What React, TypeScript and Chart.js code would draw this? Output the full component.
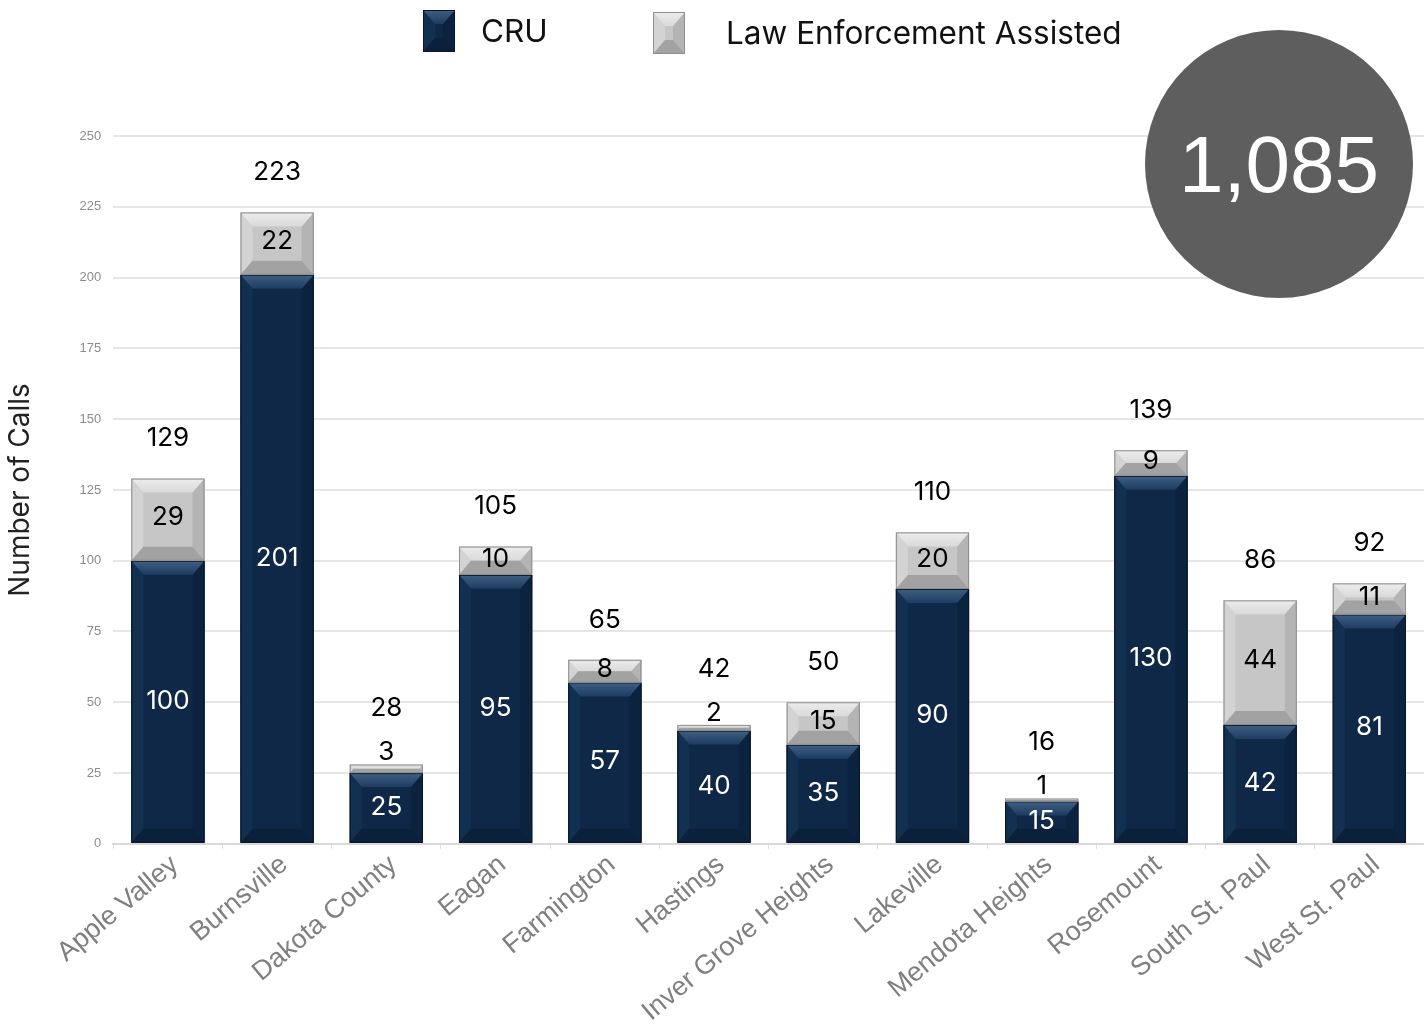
import React, { useEffect, useRef } from 'react';
import { Chart, registerables } from 'chart.js';

Chart.register(...registerables);

const categories = [
  'Apple Valley', 'Burnsville', 'Dakota County', 'Eagan', 'Farmington', 'Hastings',
  'Inver Grove Heights', 'Lakeville', 'Mendota Heights', 'Rosemount', 'South St. Paul', 'West St. Paul',
];
const cruValues = [100, 201, 25, 95, 57, 40, 35, 90, 15, 130, 42, 81];
const leaValues = [29, 22, 3, 10, 8, 2, 15, 20, 1, 9, 44, 11];
const seriesNames = ['CRU', 'Law Enforcement Assisted'];
const yMin = 0;
const yMax = 250;
const yStep = 25;
const yTitle = 'Number of Calls';

type Palette = { base: string; top1: string; top2: string; bottom: string; left: string; right: string; edge: string };
const cruPalette: Palette = {
  base: '#0f2847', top1: '#3f5f83', top2: '#1e3c61', bottom: '#0b203b', left: '#12304f', right: '#0c2340', edge: '#08172a',
};
const leaPalette: Palette = {
  base: '#c6c6c6', top1: '#ececec', top2: '#dadada', bottom: '#a2a2a2', left: '#d3d3d3', right: '#b4b4b4', edge: '#8e8e8e',
};

function drawBevel(ctx: CanvasRenderingContext2D, l: number, t: number, r: number, b: number, p: Palette) {
  const h = b - t;
  const w = r - l;
  if (h <= 0 || w <= 0) return;
  const d = Math.min(14, h / 2);
  const s = Math.min(12, w / 2, d * 0.9);
  ctx.save();
  ctx.fillStyle = p.base;
  ctx.fillRect(l, t, w, h);
  ctx.beginPath();
  ctx.moveTo(l, t); ctx.lineTo(l + s, t + d); ctx.lineTo(l + s, b - d); ctx.lineTo(l, b); ctx.closePath();
  ctx.fillStyle = p.left; ctx.fill();
  ctx.beginPath();
  ctx.moveTo(r, t); ctx.lineTo(r - s, t + d); ctx.lineTo(r - s, b - d); ctx.lineTo(r, b); ctx.closePath();
  ctx.fillStyle = p.right; ctx.fill();
  const g = ctx.createLinearGradient(0, t, 0, t + d);
  g.addColorStop(0, p.top1); g.addColorStop(1, p.top2);
  ctx.beginPath();
  ctx.moveTo(l, t); ctx.lineTo(r, t); ctx.lineTo(r - s, t + d); ctx.lineTo(l + s, t + d); ctx.closePath();
  ctx.fillStyle = g; ctx.fill();
  ctx.beginPath();
  ctx.moveTo(l, b); ctx.lineTo(r, b); ctx.lineTo(r - s, b - d); ctx.lineTo(l + s, b - d); ctx.closePath();
  ctx.fillStyle = p.bottom; ctx.fill();
  ctx.strokeStyle = p.edge; ctx.lineWidth = 1;
  ctx.strokeRect(l + 0.5, t + 0.5, w - 1, h - 1);
  ctx.restore();
}

const bevelPlugin = {
  id: 'bevelAndLabels',
  afterDatasetsDraw(chart: any) {
    const ctx: CanvasRenderingContext2D = chart.ctx;
    const palettes = [cruPalette, leaPalette];
    chart.data.datasets.forEach((ds: any, di: number) => {
      const meta = chart.getDatasetMeta(di);
      meta.data.forEach((el: any) => {
        const { x, y, base, width } = el.getProps(['x', 'y', 'base', 'width'], true);
        drawBevel(ctx, x - width / 2, Math.min(y, base), x + width / 2, Math.max(y, base), palettes[di]);
      });
    });

    ctx.save();
    ctx.font = '26px Inter';
    ctx.textAlign = 'center';
    ctx.textBaseline = 'middle';
    const m0 = chart.getDatasetMeta(0);
    const m1 = chart.getDatasetMeta(1);
    categories.forEach((_, i) => {
      const e0 = m0.data[i].getProps(['x', 'y', 'base'], true);
      const e1 = m1.data[i].getProps(['x', 'y', 'base'], true);
      ctx.fillStyle = '#ffffff';
      ctx.fillText(String(cruValues[i]), e0.x, (e0.y + e0.base) / 2 - 1);
      const h1 = e1.base - e1.y;
      let ly: number;
      let small = false;
      if (h1 < 20) { ly = e1.y - 12; small = true; } else { ly = (e1.y + e1.base) / 2 - 2; }
      ctx.fillStyle = '#000000';
      ctx.fillText(String(leaValues[i]), e1.x, ly);
      let ty = e1.y - 40;
      if (small) ty = Math.min(ty, ly - 44);
      ctx.fillText(String(cruValues[i] + leaValues[i]), e1.x, ty);
    });
    ctx.restore();
  },
  afterDraw(chart: any) {
    const ctx: CanvasRenderingContext2D = chart.ctx;
    ctx.save();
    ctx.font = '31.5px Inter';
    ctx.textBaseline = 'middle';
    ctx.textAlign = 'left';
    drawBevel(ctx, 423, 10, 455, 52, cruPalette);
    ctx.fillStyle = '#111111';
    ctx.fillText(seriesNames[0], 481, 33);
    drawBevel(ctx, 653, 12, 685, 54, leaPalette);
    ctx.fillStyle = '#111111';
    ctx.fillText(seriesNames[1], 726, 35);

    const total = cruValues.reduce((a, v) => a + v, 0) + leaValues.reduce((a, v) => a + v, 0);
    ctx.beginPath();
    ctx.arc(1279, 164, 134, 0, Math.PI * 2);
    ctx.fillStyle = '#5e5e5e';
    ctx.fill();
    ctx.fillStyle = '#ffffff';
    ctx.textAlign = 'center';
    ctx.textBaseline = 'alphabetic';
    ctx.font = '80px "Liberation Sans"';
    ctx.fillText(total.toLocaleString('en-US'), 1279, 192);
    ctx.restore();
  },
};

export default function App() {
  const ref = useRef<HTMLCanvasElement | null>(null);
  useEffect(() => {
    document.body.style.margin = '0';
    const canvas = ref.current;
    if (!canvas) return;
    const chart = new Chart(canvas, {
      type: 'bar',
      data: {
        labels: categories,
        datasets: [
          { label: seriesNames[0], data: cruValues, backgroundColor: cruPalette.base, borderWidth: 0, barPercentage: 0.67, categoryPercentage: 1 },
          { label: seriesNames[1], data: leaValues, backgroundColor: leaPalette.base, borderWidth: 0, barPercentage: 0.67, categoryPercentage: 1 },
        ],
      },
      options: {
        responsive: false,
        maintainAspectRatio: false,
        animation: false,
        layout: { padding: { top: 136, left: 0, right: 0, bottom: 0 } },
        plugins: { legend: { display: false }, tooltip: { enabled: false } },
        scales: {
          x: {
            stacked: true,
            grid: { display: true, drawOnChartArea: false, drawTicks: true, tickLength: 5, color: '#dcdcdc' },
            border: { color: '#d9d9d9', width: 2 },
            ticks: {
              color: '#7f7f7f',
              font: { family: 'Liberation Sans', size: 27 },
              minRotation: 40,
              maxRotation: 40,
              autoSkip: false,
              padding: 0,
              labelOffset: 7,
            },
          },
          y: {
            stacked: true,
            min: yMin,
            max: yMax,
            ticks: { stepSize: yStep, color: '#8c8c8c', font: { family: 'Liberation Sans', size: 13 }, padding: 12 },
            grid: { color: '#e6e6e6', lineWidth: 2, drawTicks: false },
            border: { display: false },
            title: {
              display: true,
              text: yTitle,
              color: '#222222',
              font: { family: 'Inter', size: 28 },
              padding: { top: 4, bottom: 30 },
            },
          },
        },
      },
      plugins: [bevelPlugin],
    });
    return () => chart.destroy();
  }, []);
  return (
    <div style={{ width: 1424, height: 1028 }}>
      <canvas ref={ref} width={1424} height={1028} style={{ display: 'block' }} />
    </div>
  );
}
